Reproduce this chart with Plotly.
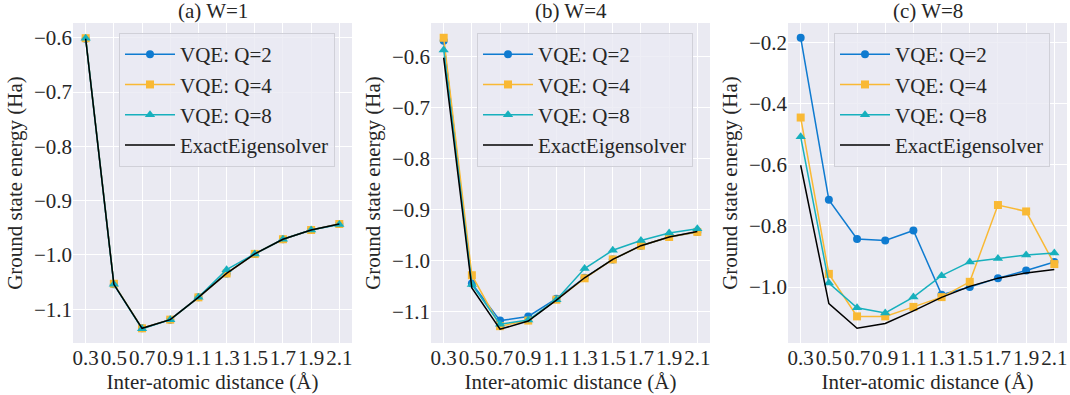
import plotly.graph_objects as go

distances = [0.3, 0.5, 0.7, 0.9, 1.1, 1.3, 1.5, 1.7, 1.9, 2.1]
tick_labels = ["0.3", "0.5", "0.7", "0.9", "1.1", "1.3", "1.5", "1.7", "1.9", "2.1"]

exact = [-0.602, -1.054, -1.135, -1.119, -1.078, -1.034, -0.998, -0.971, -0.954, -0.943]

# (a) W=1
w1_q2 = [-0.602, -1.054, -1.135, -1.119, -1.078, -1.034, -0.998, -0.971, -0.954, -0.943]
w1_q4 = [-0.601, -1.053, -1.135, -1.119, -1.078, -1.034, -0.998, -0.971, -0.954, -0.943]
w1_q8 = [-0.601, -1.054, -1.136, -1.119, -1.078, -1.027, -0.998, -0.971, -0.954, -0.944]

# (b) W=4
w4_q2 = [-0.569, -1.045, -1.118, -1.110, -1.075, -1.034, -0.998, -0.971, -0.954, -0.944]
w4_q4 = [-0.563, -1.029, -1.129, -1.118, -1.077, -1.035, -0.998, -0.971, -0.954, -0.944]
w4_q8 = [-0.587, -1.047, -1.125, -1.117, -1.077, -1.016, -0.980, -0.961, -0.946, -0.938]

# (c) W=8
w8_q2 = [-0.185, -0.715, -0.843, -0.848, -0.815, -1.025, -1.000, -0.971, -0.946, -0.918]
w8_q4 = [-0.446, -0.957, -1.096, -1.096, -1.065, -1.033, -0.983, -0.732, -0.753, -0.925]
w8_q8 = [-0.509, -0.987, -1.068, -1.085, -1.033, -0.963, -0.918, -0.907, -0.895, -0.889]

titles = ["(a) W=1", "(b) W=4", "(c) W=8"]
series_names = ["VQE: Q=2", "VQE: Q=4", "VQE: Q=8", "ExactEigensolver"]
colors = ["#0f7bd0", "#f9b934", "#17b0bd", "#000000"]
symbols = ["circle", "square", "triangle-up"]
msizes = [8, 8, 9]

panels = [
    (w1_q2, w1_q4, w1_q8),
    (w4_q2, w4_q4, w4_q8),
    (w8_q2, w8_q4, w8_q8),
]
y_ranges = [[-1.162, -0.573], [-1.162, -0.534], [-1.183, -0.137]]
y_dticks = [0.1, 0.1, 0.2]
y_tick0 = [-0.6, -0.6, -0.2]

W, H = 1070, 395
x_doms = [(73, 352), (431, 710), (788, 1067)]
y_top, y_bot = 23, 343
legend_x = [119, 477, 834]

FONT = "Liberation Serif"
FS = 21
BG = "#eaeaf2"
TXT = "#262626"

fig = go.Figure()
layout = dict(
    width=W, height=H,
    margin=dict(l=0, r=0, t=0, b=0),
    paper_bgcolor="white",
    font=dict(family=FONT, size=FS, color=TXT),
    annotations=[],
)

for i, vals in enumerate(panels):
    ax = "" if i == 0 else str(i + 1)
    leg = "legend" if i == 0 else f"legend{i + 1}"
    for j in range(3):
        fig.add_trace(go.Scatter(
            x=distances, y=vals[j], mode="lines+markers", name=series_names[j],
            line=dict(color=colors[j], width=1.5),
            marker=dict(symbol=symbols[j], size=msizes[j], color=colors[j]),
            xaxis="x" + ax, yaxis="y" + ax, legend=leg, legendgroup=f"g{i}{j}",
        ))
    fig.add_trace(go.Scatter(
        x=distances, y=exact, mode="lines", name=series_names[3],
        line=dict(color=colors[3], width=1.5),
        xaxis="x" + ax, yaxis="y" + ax, legend=leg, legendgroup=f"g{i}3",
    ))
    x0, x1 = x_doms[i]
    layout["xaxis" + ax] = dict(
        domain=[x0 / W, x1 / W], anchor="y" + ax,
        range=[0.21, 2.19], tickmode="array", tickvals=distances, ticktext=tick_labels,
        tickangle=0,
        showgrid=True, gridcolor="white", gridwidth=1, zeroline=False,
        showline=False, ticks="", tickfont=dict(size=FS, family=FONT, color=TXT),
        title=dict(text="Inter-atomic distance (Å)", font=dict(size=FS, family=FONT, color=TXT), standoff=4),
    )
    layout["yaxis" + ax] = dict(
        domain=[1 - y_bot / H, 1 - y_top / H], anchor="x" + ax,
        range=y_ranges[i], tick0=y_tick0[i], dtick=y_dticks[i],
        showgrid=True, gridcolor="white", gridwidth=1, zeroline=False,
        showline=False, ticks="", tickfont=dict(size=FS, family=FONT, color=TXT), tickformat=".1f",
        title=dict(text="Ground state energy (Ha)", font=dict(size=FS, family=FONT, color=TXT), standoff=5),
    )
    layout[leg] = dict(
        x=legend_x[i] / W, y=1 - 33 / H, xanchor="left", yanchor="top",
        bgcolor="rgba(234,234,242,0.8)", bordercolor="#d0d0d8", borderwidth=1,
        font=dict(size=FS, family=FONT, color=TXT),
        itemwidth=50, tracegroupgap=1, traceorder="normal",
    )
    layout["annotations"].append(dict(
        text=titles[i], x=(x0 + x1) / 2 / W, y=1 - 11 / H, xref="paper", yref="paper",
        showarrow=False, font=dict(size=FS, family=FONT, color=TXT),
        xanchor="center", yanchor="middle",
    ))

fig.update_layout(**layout)
fig.update_layout(plot_bgcolor=BG)
fig.write_html(
    "out.html",
    config={"displayModeBar": False},
    post_script="document.body.style.margin='0';document.body.style.overflow='hidden';",
)
